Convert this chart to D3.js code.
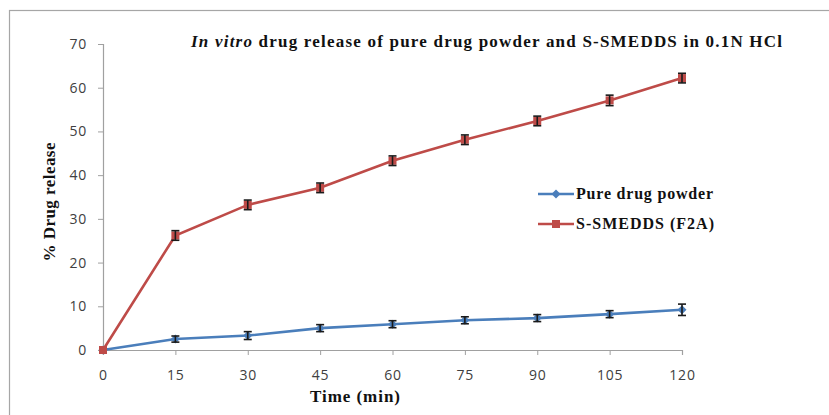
<!DOCTYPE html>
<html><head><meta charset="utf-8">
<script src="https://cdn.jsdelivr.net/npm/d3@7"></script>
<style>body{margin:0;background:#fff;}svg{display:block;}</style>
</head><body>
<svg id="c" width="829" height="415"></svg>
<script>
const times = [0, 15, 30, 45, 60, 75, 90, 105, 120];
const pureDrug = [0, 2.5, 3.3, 5.0, 5.9, 6.8, 7.3, 8.2, 9.2];
const pureDrugErr = [0, 0.7, 0.9, 0.8, 0.8, 0.8, 0.8, 0.8, 1.3];
const smedds = [0, 26.2, 33.2, 37.1, 43.3, 48.1, 52.4, 57.1, 62.2];
const smeddsErr = [0, 1.1, 1.1, 1.1, 1.1, 1.1, 1.1, 1.2, 1.1];
const yTicks = [0, 10, 20, 30, 40, 50, 60, 70];
const seriesNames = ["Pure drug powder", "S-SMEDDS (F2A)"];

const svg = d3.select("#c");
svg.append("rect").attr("x",9.5).attr("y",10.5).attr("width",830).attr("height",420)
  .attr("fill","none").attr("stroke","#a6a6a6").attr("stroke-width",1.2);

const x = d3.scaleLinear().domain([0,120]).range([103,682]);
const y = d3.scaleLinear().domain([0,70]).range([350,44]);

const tickFont = "'Open Sans', 'DejaVu Sans', sans-serif";
const yAx = svg.append("g").attr("transform","translate(103,0)")
  .call(d3.axisLeft(y).tickValues(yTicks).tickSize(5).tickPadding(11));
const xAx = svg.append("g").attr("transform","translate(0,350)")
  .call(d3.axisBottom(x).tickValues(times).tickSize(5).tickPadding(15));
[yAx,xAx].forEach(a=>{
  a.select(".domain").attr("stroke","#a0a0a0").attr("stroke-width",1.2);
  a.selectAll(".tick line").attr("stroke","#a0a0a0");
  a.selectAll(".tick text").attr("fill","#404040").style("font-family",tickFont)
    .style("font-size","14px").style("letter-spacing","0.8px");
});

const colors = ["#4a7ebb","#be4b48"];
const datasets = [[pureDrug,pureDrugErr],[smedds,smeddsErr]];
const line = d3.line().x((d,i)=>x(times[i])).y(d=>y(d));

datasets.forEach(([vals,errs],k)=>{
  svg.append("path").datum(vals).attr("d",line).attr("fill","none")
    .attr("stroke",colors[k]).attr("stroke-width",2.6);
});
datasets.forEach(([vals,errs],k)=>{
  const g = svg.append("g");
  vals.forEach((v,i)=>{
    const cx=x(times[i]), cy=y(v);
    if(k===1) g.append("rect").attr("x",cx-4).attr("y",cy-4).attr("width",8).attr("height",8).attr("fill",colors[k]);
    else g.append("path").attr("d",`M${cx},${cy-4.5}L${cx+4.5},${cy}L${cx},${cy+4.5}L${cx-4.5},${cy}Z`).attr("fill",colors[k]);
    if(errs[i]>0){
      const y1=y(v+errs[i]), y2=y(v-errs[i]);
      g.append("line").attr("x1",cx).attr("x2",cx).attr("y1",y1).attr("y2",y2).attr("stroke","#1a1a1a").attr("stroke-width",1.6);
      g.append("line").attr("x1",cx-4).attr("x2",cx+4).attr("y1",y1).attr("y2",y1).attr("stroke","#1a1a1a").attr("stroke-width",1.6);
      g.append("line").attr("x1",cx-4).attr("x2",cx+4).attr("y1",y2).attr("y2",y2).attr("stroke","#1a1a1a").attr("stroke-width",1.6);
    }
  });
});

const serif = "'Liberation Serif', 'Times New Roman', serif";
const t = svg.append("text").attr("x",191).attr("y",47)
  .attr("textLength",591).attr("lengthAdjust","spacing")
  .style("font-family",serif).style("font-size","17px").style("font-weight","bold").attr("fill","#111");
t.append("tspan").style("font-style","italic").text("In vitro");
t.append("tspan").text(" drug release of pure drug powder and S-SMEDDS in 0.1N HCl");

svg.append("text").attr("transform","translate(55,202) rotate(-90)").attr("text-anchor","middle")
  .attr("textLength",119).attr("lengthAdjust","spacing")
  .style("font-family",serif).style("font-size","17px").style("font-weight","bold").attr("fill","#111")
  .text("% Drug release");
svg.append("text").attr("x",355).attr("y",402).attr("text-anchor","middle")
  .attr("textLength",90).attr("lengthAdjust","spacing")
  .style("font-family",serif).style("font-size","17px").style("font-weight","bold").attr("fill","#111")
  .text("Time (min)");

const legendW = [137, 138];
seriesNames.forEach((n,k)=>{
  const ly = 194 + k*30;
  svg.append("line").attr("x1",538).attr("x2",574).attr("y1",ly).attr("y2",ly).attr("stroke",colors[k]).attr("stroke-width",2.6);
  if(k===1) svg.append("rect").attr("x",552).attr("y",ly-4).attr("width",8).attr("height",8).attr("fill",colors[k]);
  else svg.append("path").attr("d",`M556,${ly-4.5}L560.5,${ly}L556,${ly+4.5}L551.5,${ly}Z`).attr("fill",colors[k]);
  svg.append("text").attr("x",576).attr("y",ly+5).attr("textLength",legendW[k]).attr("lengthAdjust","spacing")
    .style("font-family",serif).style("font-size","16px")
    .style("font-weight","bold").attr("fill","#111").text(n);
});
</script>
</body></html>
